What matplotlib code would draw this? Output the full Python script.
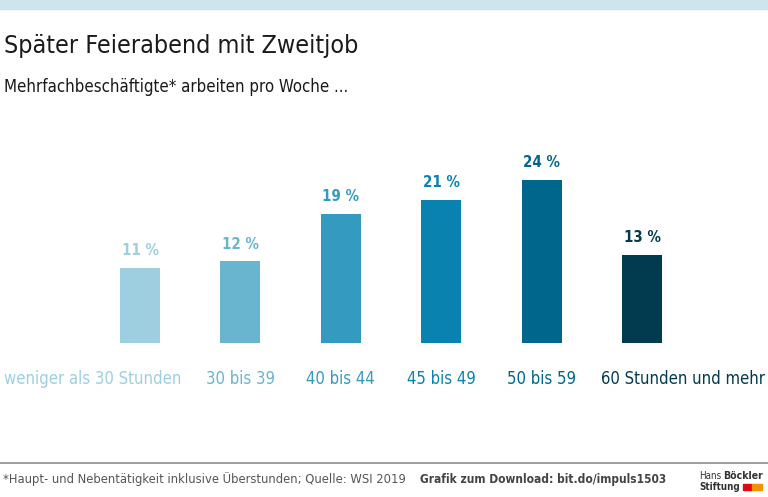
import matplotlib.pyplot as plt
from matplotlib.patches import Rectangle

# Data
categories = ["weniger als 30 Stunden", "30 bis 39", "40 bis 44", "45 bis 49", "50 bis 59", "60 Stunden und mehr"]
values = [11, 12, 19, 21, 24, 13]
colors = ["#9dcfe1", "#69b4cf", "#359abf", "#0a82b0", "#01668b", "#023a50"]

plt.rcParams['font.family'] = ['DejaVu Sans']
plt.rcParams['font.stretch'] = 'condensed'

W, H = 768, 497
fig = plt.figure(figsize=(W / 100, H / 100), dpi=100)

# top band
fig.patches.append(Rectangle((0, 1 - 9 / H), 1, 9 / H, transform=fig.transFigure,
                             color="#cfe5ee", zorder=0))

# axes in pixel layout: bar centres at 140 + 100.4*i, baseline at y=343
base = 343
top = 150
ax = fig.add_axes([0, (H - base) / H, 1, (base - top) / H])
x0 = -140 / 100.4
ax.set_xlim(x0, x0 + W / 100.4)
ax.set_ylim(0, (base - top) / 6.8)
ax.axis("off")

pos = list(range(len(categories)))
ax.bar(pos, values, width=0.4, color=colors)
for p, v, c in zip(pos, values, colors):
    ax.annotate(f"{v} %", (p, v), xytext=(0, 7), textcoords="offset points",
                ha="center", va="bottom", fontsize=10.8, fontweight="bold", color=c)

# category labels (outer ones kept inside the figure)
for p, c in zip(pos, colors):
    if p == 0:
        ax.annotate(categories[p], (4, 0), xycoords=("figure pixels", "data"),
                    xytext=(0, -26), textcoords="offset points",
                    ha="left", va="center", fontsize=12, color=c, annotation_clip=False)
    elif p == len(pos) - 1:
        ax.annotate(categories[p], (765, 0), xycoords=("figure pixels", "data"),
                    xytext=(0, -26), textcoords="offset points",
                    ha="right", va="center", fontsize=12, color=c, annotation_clip=False)
    else:
        ax.annotate(categories[p], (p, 0), xytext=(0, -26), textcoords="offset points",
                    ha="center", va="center", fontsize=12, color=c, annotation_clip=False)

# titles
fig.text(4 / W, 1 - 46 / H, "Später Feierabend mit Zweitjob", fontsize=18,
         color="#1a1a1a", va="center", ha="left")
fig.text(4 / W, 1 - 87 / H, "Mehrfachbeschäftigte* arbeiten pro Woche ...", fontsize=12.1,
         color="#1a1a1a", va="center", ha="left")

# footer
fig.add_artist(plt.Line2D([0, 1], [1 - 463 / H] * 2, color="#8c8c8c", lw=1.2,
                          transform=fig.transFigure))
fig.text(3 / W, 1 - 479 / H, "*Haupt- und Nebentätigkeit inklusive Überstunden; Quelle: WSI 2019",
         fontsize=9.3, color="#555555", va="center", ha="left")
fig.text(420 / W, 1 - 479 / H, "Grafik zum Download: bit.do/impuls1503",
         fontsize=8.6, fontweight="bold", color="#444444", va="center", ha="left")
fig.text(699 / W, 1 - 476 / H, "Hans", fontsize=7, color="#333333",
         va="center", ha="left")
fig.text(763 / W, 1 - 476 / H, "Böckler", fontsize=7.6, fontweight="bold", color="#333333",
         va="center", ha="right")
fig.text(699 / W, 1 - 487 / H, "Stiftung", fontsize=7, fontweight="bold", color="#333333",
         va="center", ha="left")
fig.patches.append(Rectangle((743 / W, 1 - 490 / H), 9 / W, 6 / H, transform=fig.transFigure,
                             color="#e30613"))
fig.patches.append(Rectangle((752 / W, 1 - 490 / H), 10 / W, 6 / H, transform=fig.transFigure,
                             color="#f39200"))

fig.savefig("out.png", dpi=100)
